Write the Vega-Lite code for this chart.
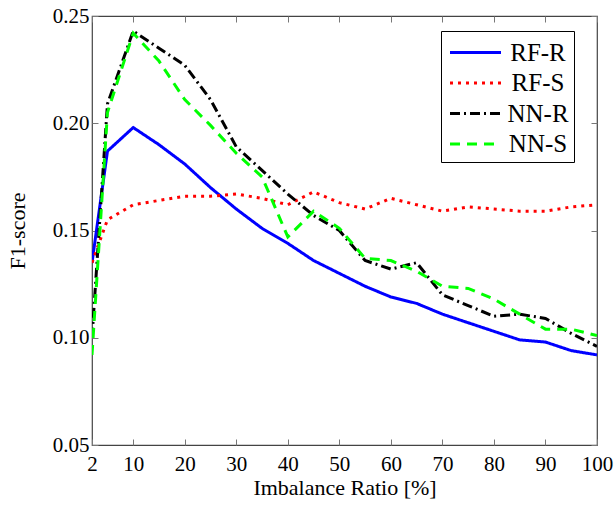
{
  "$schema": "https://vega.github.io/schema/vega-lite/v6.json",
  "autosize": "none",
  "width": 505,
  "height": 429,
  "padding": {"left": 92, "top": 16, "right": 19, "bottom": 66},
  "background": "white",
  "config": {
    "font": "Liberation Serif",
    "view": {"stroke": "#444", "strokeWidth": 1.2},
    "axis": {
      "domain": false,
      "grid": false,
      "tickColor": "#777",
      "tickSize": -6,
      "tickWidth": 1
    }
  },
  "data": {
    "values": [
      {"ratio": 2, "f1": 0.135, "series": "RF-R"},
      {"ratio": 5, "f1": 0.187, "series": "RF-R"},
      {"ratio": 10, "f1": 0.198, "series": "RF-R"},
      {"ratio": 15, "f1": 0.190, "series": "RF-R"},
      {"ratio": 20, "f1": 0.181, "series": "RF-R"},
      {"ratio": 25, "f1": 0.170, "series": "RF-R"},
      {"ratio": 30, "f1": 0.160, "series": "RF-R"},
      {"ratio": 35, "f1": 0.151, "series": "RF-R"},
      {"ratio": 40, "f1": 0.144, "series": "RF-R"},
      {"ratio": 45, "f1": 0.136, "series": "RF-R"},
      {"ratio": 50, "f1": 0.130, "series": "RF-R"},
      {"ratio": 55, "f1": 0.124, "series": "RF-R"},
      {"ratio": 60, "f1": 0.119, "series": "RF-R"},
      {"ratio": 65, "f1": 0.116, "series": "RF-R"},
      {"ratio": 70, "f1": 0.111, "series": "RF-R"},
      {"ratio": 75, "f1": 0.107, "series": "RF-R"},
      {"ratio": 80, "f1": 0.103, "series": "RF-R"},
      {"ratio": 85, "f1": 0.099, "series": "RF-R"},
      {"ratio": 90, "f1": 0.098, "series": "RF-R"},
      {"ratio": 95, "f1": 0.094, "series": "RF-R"},
      {"ratio": 100, "f1": 0.092, "series": "RF-R"},

      {"ratio": 2, "f1": 0.135, "series": "RF-S"},
      {"ratio": 5, "f1": 0.155, "series": "RF-S"},
      {"ratio": 10, "f1": 0.162, "series": "RF-S"},
      {"ratio": 15, "f1": 0.164, "series": "RF-S"},
      {"ratio": 20, "f1": 0.166, "series": "RF-S"},
      {"ratio": 25, "f1": 0.166, "series": "RF-S"},
      {"ratio": 30, "f1": 0.167, "series": "RF-S"},
      {"ratio": 35, "f1": 0.165, "series": "RF-S"},
      {"ratio": 40, "f1": 0.162, "series": "RF-S"},
      {"ratio": 45, "f1": 0.168, "series": "RF-S"},
      {"ratio": 50, "f1": 0.163, "series": "RF-S"},
      {"ratio": 55, "f1": 0.160, "series": "RF-S"},
      {"ratio": 60, "f1": 0.165, "series": "RF-S"},
      {"ratio": 65, "f1": 0.162, "series": "RF-S"},
      {"ratio": 70, "f1": 0.159, "series": "RF-S"},
      {"ratio": 75, "f1": 0.161, "series": "RF-S"},
      {"ratio": 80, "f1": 0.160, "series": "RF-S"},
      {"ratio": 85, "f1": 0.159, "series": "RF-S"},
      {"ratio": 90, "f1": 0.159, "series": "RF-S"},
      {"ratio": 95, "f1": 0.161, "series": "RF-S"},
      {"ratio": 100, "f1": 0.162, "series": "RF-S"},

      {"ratio": 2, "f1": 0.100, "series": "NN-R"},
      {"ratio": 5, "f1": 0.209, "series": "NN-R"},
      {"ratio": 10, "f1": 0.243, "series": "NN-R"},
      {"ratio": 15, "f1": 0.235, "series": "NN-R"},
      {"ratio": 20, "f1": 0.227, "series": "NN-R"},
      {"ratio": 25, "f1": 0.211, "series": "NN-R"},
      {"ratio": 30, "f1": 0.189, "series": "NN-R"},
      {"ratio": 35, "f1": 0.178, "series": "NN-R"},
      {"ratio": 40, "f1": 0.167, "series": "NN-R"},
      {"ratio": 45, "f1": 0.157, "series": "NN-R"},
      {"ratio": 50, "f1": 0.150, "series": "NN-R"},
      {"ratio": 55, "f1": 0.136, "series": "NN-R"},
      {"ratio": 60, "f1": 0.132, "series": "NN-R"},
      {"ratio": 65, "f1": 0.135, "series": "NN-R"},
      {"ratio": 70, "f1": 0.120, "series": "NN-R"},
      {"ratio": 75, "f1": 0.115, "series": "NN-R"},
      {"ratio": 80, "f1": 0.110, "series": "NN-R"},
      {"ratio": 85, "f1": 0.111, "series": "NN-R"},
      {"ratio": 90, "f1": 0.109, "series": "NN-R"},
      {"ratio": 95, "f1": 0.102, "series": "NN-R"},
      {"ratio": 100, "f1": 0.096, "series": "NN-R"},

      {"ratio": 2, "f1": 0.092, "series": "NN-S"},
      {"ratio": 5, "f1": 0.205, "series": "NN-S"},
      {"ratio": 10, "f1": 0.242, "series": "NN-S"},
      {"ratio": 15, "f1": 0.229, "series": "NN-S"},
      {"ratio": 20, "f1": 0.211, "series": "NN-S"},
      {"ratio": 25, "f1": 0.199, "series": "NN-S"},
      {"ratio": 30, "f1": 0.186, "series": "NN-S"},
      {"ratio": 35, "f1": 0.175, "series": "NN-S"},
      {"ratio": 40, "f1": 0.147, "series": "NN-S"},
      {"ratio": 45, "f1": 0.159, "series": "NN-S"},
      {"ratio": 50, "f1": 0.151, "series": "NN-S"},
      {"ratio": 55, "f1": 0.137, "series": "NN-S"},
      {"ratio": 60, "f1": 0.136, "series": "NN-S"},
      {"ratio": 65, "f1": 0.131, "series": "NN-S"},
      {"ratio": 70, "f1": 0.124, "series": "NN-S"},
      {"ratio": 75, "f1": 0.123, "series": "NN-S"},
      {"ratio": 80, "f1": 0.118, "series": "NN-S"},
      {"ratio": 85, "f1": 0.111, "series": "NN-S"},
      {"ratio": 90, "f1": 0.104, "series": "NN-S"},
      {"ratio": 95, "f1": 0.104, "series": "NN-S"},
      {"ratio": 100, "f1": 0.101, "series": "NN-S"}
    ]
  },
  "layer": [
    {
      "mark": {"type": "line", "strokeWidth": 3, "clip": true},
      "encoding": {
        "x": {
          "field": "ratio", "type": "quantitative",
          "scale": {"domain": [2, 100], "nice": false, "zero": false},
          "axis": {"orient": "bottom", "values": [2,10,20,30,40,50,60,70,80,90,100], "title": "Imbalance Ratio [%]",
                   "labelFont": "Liberation Serif", "titleFont": "Liberation Serif", "labelFontSize": 21, "titleFontSize": 22,
                   "titleFontWeight": "normal", "labelColor": "black", "titleColor": "black",
                   "labelPadding": 14, "titlePadding": 3, "labelFlush": false}
        },
        "y": {
          "field": "f1", "type": "quantitative",
          "scale": {"domain": [0.05, 0.25], "nice": false, "zero": false},
          "axis": {"orient": "left", "values": [0.05,0.10,0.15,0.20,0.25], "format": ".2f", "title": "F1-score",
                   "labelFont": "Liberation Serif", "titleFont": "Liberation Serif", "labelFontSize": 21, "titleFontSize": 22,
                   "titleFontWeight": "normal", "labelColor": "black", "titleColor": "black",
                   "labelPadding": 9, "titlePadding": 23, "labelFlush": false}
        },
        "color": {
          "field": "series", "type": "nominal",
          "scale": {"domain": ["RF-R","RF-S","NN-R","NN-S"], "range": ["#0000ff","#ff0000","#000000","#00ff00"]},
          "legend": {
            "title": null,
            "orient": "none",
            "legendX": 349,
            "legendY": 15,
            "strokeColor": "black",
            "fillColor": "white",
            "padding": 5,
            "symbolType": "M-1.7,0H1.7",
            "symbolSize": 900,
            "symbolStrokeWidth": 3,
            "symbolOffset": 13,
            "labelFont": "Liberation Serif",
            "labelFontSize": 25,
            "labelColor": "black",
            "labelAlign": "center",
            "rowPadding": 0.5,
            "labelOffset": 46
          }
        },
        "strokeDash": {
          "field": "series", "type": "nominal",
          "scale": {"domain": ["RF-R","RF-S","NN-R","NN-S"], "range": [[1,0],[3,5],[10,4,2,4],[10,7]]},
          "legend": null
        }
      }
    },
    {
      "mark": {"type": "point", "opacity": 0},
      "encoding": {
        "x": {
          "field": "ratio", "type": "quantitative",
          "axis": {"orient": "top", "values": [2,10,20,30,40,50,60,70,80,90,100], "labels": false, "title": null}
        },
        "y": {
          "field": "f1", "type": "quantitative",
          "axis": {"orient": "right", "values": [0.05,0.10,0.15,0.20,0.25], "labels": false, "title": null}
        }
      }
    }
  ],
  "resolve": {"axis": {"x": "independent", "y": "independent"}}
}
